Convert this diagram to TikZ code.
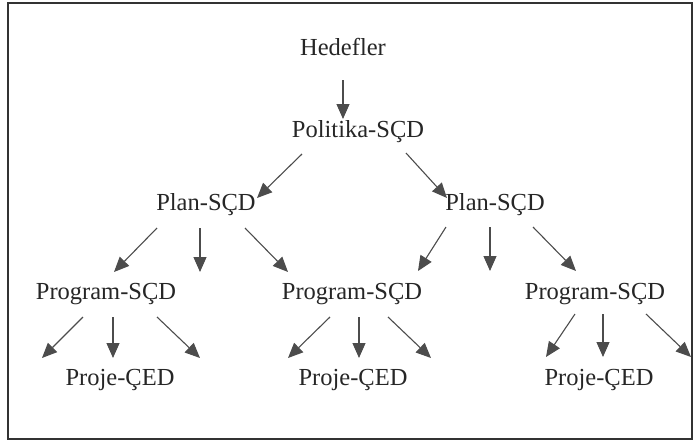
\documentclass[tikz,border=0pt]{standalone}
\usepackage{fontspec}
\setmainfont{Liberation Serif}
\usetikzlibrary{arrows.meta}
\begin{document}
\begin{tikzpicture}[x=1pt,y=-1pt,
  lbl/.style={inner sep=0pt,font=\fontsize{24.5}{30}\selectfont,text=black!85},
  arr/.style={draw=black!70,line width=1.1pt,-{Triangle[length=15pt,width=13pt]}}]
\useasboundingbox (0,0) rectangle (696,445);
\draw[line width=1.6pt,draw=black!80] (8,3) rectangle (692,439);
% nodes
\node[lbl] (hed) at (343,47) {Hedefler};
\node[lbl] (pol) at (358,132) {Politika-SÇD};
\node[lbl] (pl1) at (206,205) {Plan-SÇD};
\node[lbl] (pl2) at (495,205) {Plan-SÇD};
\node[lbl] (pr1) at (106,294) {Program-SÇD};
\node[lbl] (pr2) at (352,294) {Program-SÇD};
\node[lbl] (pr3) at (595,294) {Program-SÇD};
\node[lbl] (pj1) at (120,380) {Proje-ÇED};
\node[lbl] (pj2) at (353,380) {Proje-ÇED};
\node[lbl] (pj3) at (599,380) {Proje-ÇED};
% arrow ends
\coordinate (a0s) at (343,80);  \coordinate (a0e) at (343,119);
\coordinate (a1s) at (302,154); \coordinate (a1e) at (257,198);
\coordinate (a2s) at (406,153); \coordinate (a2e) at (447,198);
\coordinate (b1s) at (157,228); \coordinate (b1e) at (114,272);
\coordinate (b2s) at (200,228); \coordinate (b2e) at (200,272);
\coordinate (b3s) at (245,228); \coordinate (b3e) at (288,272);
\coordinate (b4s) at (446,227); \coordinate (b4e) at (418,271);
\coordinate (b5s) at (490,227); \coordinate (b5e) at (490,271);
\coordinate (b6s) at (533,227); \coordinate (b6e) at (576,271);
\coordinate (c1s) at (83,317);  \coordinate (c1e) at (42,358);
\coordinate (c2s) at (113,317); \coordinate (c2e) at (113,358);
\coordinate (c3s) at (157,317); \coordinate (c3e) at (200,358);
\coordinate (c4s) at (330,317); \coordinate (c4e) at (288,358);
\coordinate (c5s) at (359,317); \coordinate (c5e) at (359,358);
\coordinate (c6s) at (388,317); \coordinate (c6e) at (431,358);
\coordinate (c7s) at (575,314); \coordinate (c7e) at (546,357);
\coordinate (c8s) at (603,314); \coordinate (c8e) at (603,357);
\coordinate (c9s) at (646,314); \coordinate (c9e) at (691,357);
\foreach \s/\e in {a0s/a0e,a1s/a1e,a2s/a2e,b1s/b1e,b2s/b2e,b3s/b3e,b4s/b4e,b5s/b5e,b6s/b6e,
  c1s/c1e,c2s/c2e,c3s/c3e,c4s/c4e,c5s/c5e,c6s/c6e,c7s/c7e,c8s/c8e,c9s/c9e}
  \draw[arr] (\s) -- (\e);
\end{tikzpicture}
\end{document}
